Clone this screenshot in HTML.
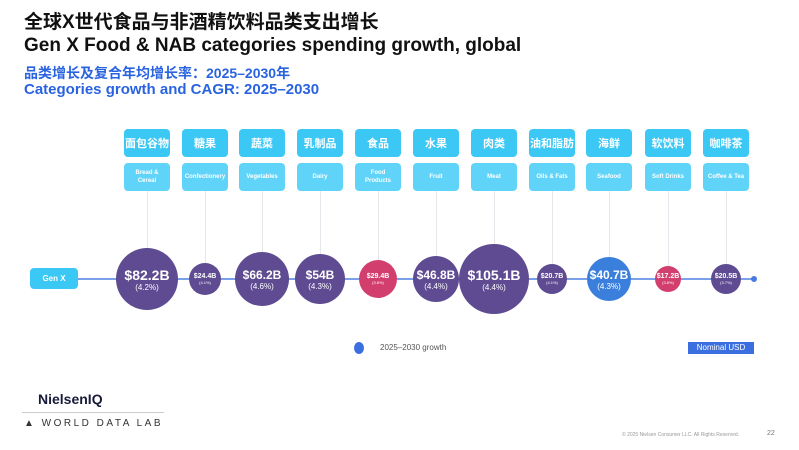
<!DOCTYPE html>
<html><head><meta charset="utf-8"><style>
body{margin:0;width:799px;height:450px;background:#fff;font-family:"Liberation Sans","Noto Sans CJK SC",sans-serif;position:relative;overflow:hidden}
.t{position:absolute;left:24px;white-space:nowrap;font-weight:bold}
.b{position:absolute;background:#3cc8f5;border-radius:4px;color:#fff;text-align:center;display:flex;align-items:center;justify-content:center;font-weight:bold;white-space:nowrap}
.z{top:129px;height:28px;width:46px;font-size:11px}
.e{top:163px;height:28px;width:46px;font-size:6px;line-height:8px;background:#5fd3f8;white-space:normal}
.c{position:absolute;border-radius:50%;color:#fff;text-align:center;display:flex;flex-direction:column;align-items:center;justify-content:center;font-weight:bold}
.v{position:absolute;width:1px;background:#e6e6ec;top:191px}
</style></head><body>
<div class="t" style="top:7px;font-size:19px;color:#111">全球X世代食品与非酒精饮料品类支出增长</div>
<div class="t" style="top:35px;font-size:19px;color:#111">Gen X Food &amp; NAB categories spending growth, global</div>
<div class="t" style="top:63px;font-size:14px;color:#2a63e0">品类增长及复合年均增长率：2025–2030年</div>
<div class="t" style="top:81px;font-size:15px;color:#2a63e0">Categories growth and CAGR: 2025–2030</div>

<div style="position:absolute;left:78px;top:278px;width:676px;height:2px;background:#7aa0ea"></div>
<div style="position:absolute;left:751px;top:276px;width:6px;height:6px;border-radius:50%;background:#4a7ae0"></div>
<div class="b" style="left:30px;top:268px;width:48px;height:21px;font-size:8px">Gen X</div>

<div id="g"></div>
<script>
var d=[[147,31,"$82.2B","(4.2%)","面包谷物","Bread &amp;<br>Cereal","#5e4b91"],
[205,16,"$24.4B","(4.1%)","糖果","Confectionery","#5e4b91"],
[262,27,"$66.2B","(4.6%)","蔬菜","Vegetables","#5e4b91"],
[320,25,"$54B","(4.3%)","乳制品","Dairy","#5e4b91"],
[378,19,"$29.4B","(3.8%)","食品","Food<br>Products","#d23f6e"],
[436,23,"$46.8B","(4.4%)","水果","Fruit","#5e4b91"],
[494,35,"$105.1B","(4.4%)","肉类","Meat","#5e4b91"],
[552,15,"$20.7B","(4.1%)","油和脂肪","Oils &amp; Fats","#5e4b91"],
[609,22,"$40.7B","(4.3%)","海鲜","Seafood","#3b7fdc"],
[668,13,"$17.2B","(3.8%)","软饮料","Soft Drinks","#d23f6e"],
[726,15,"$20.5B","(3.7%)","咖啡茶","Coffee &amp; Tea","#5e4b91"]];
var h="";d.forEach(function(a){var x=a[0],r=a[1],big=r>20;
h+='<div class="v" style="left:'+x+'px;height:'+(279-r-191)+'px"></div>';
h+='<div class="b z" style="left:'+(x-23)+'px">'+a[4]+'</div>';
h+='<div class="b e" style="left:'+(x-23)+'px">'+a[5]+'</div>';
h+='<div class="c" style="left:'+(x-r)+'px;top:'+(279-r)+'px;width:'+2*r+'px;height:'+2*r+'px;background:'+a[6]+'"><div style="font-size:'+(big?(r>30?14:12):7)+'px">'+a[2]+'</div><div style="font-size:'+(big?8:4)+'px;font-weight:normal">'+a[3]+'</div></div>';});
document.getElementById("g").innerHTML=h;
</script>

<div style="position:absolute;left:354px;top:342px;width:10px;height:12px;border-radius:50%;background:#3b6fe0"></div>
<div style="position:absolute;left:380px;top:343px;font-size:8px;color:#555">2025–2030 growth</div>
<div style="position:absolute;left:688px;top:342px;width:66px;height:12px;background:#3b6fe0;color:#fff;font-size:8px;text-align:center;line-height:12px">Nominal USD</div>

<div style="position:absolute;left:38px;top:391px;font-size:14px;font-weight:bold;color:#1a1a3a">NielsenIQ</div>
<div style="position:absolute;left:22px;top:412px;width:142px;height:1px;background:#ccc"></div>
<div style="position:absolute;left:24px;top:418px;font-size:10px;letter-spacing:2.5px;color:#333">▲ WORLD DATA LAB</div>
<div style="position:absolute;left:622px;top:432px;font-size:5px;color:#999">© 2025 Nielsen Consumer LLC. All Rights Reserved.</div>
<div style="position:absolute;left:767px;top:430px;font-size:7px;color:#777">22</div>
</body></html>
